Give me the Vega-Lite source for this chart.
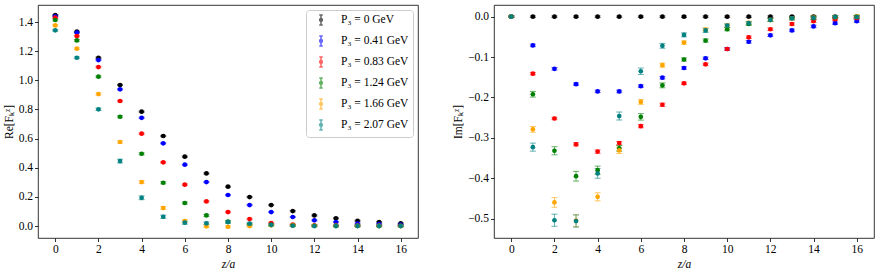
{
  "$schema": "https://vega.github.io/schema/vega-lite/v6.json",
  "padding": {"left": 2, "top": 4, "right": 5, "bottom": 2},
  "spacing": 33,
  "config": {
    "font": "Liberation Serif",
    "view": {"stroke": "#000", "strokeWidth": 0.8},
    "axis": {"domain": false, "grid": false, "tickColor": "#000", "tickSize": 3.5, "tickWidth": 0.8, "labelFont": "Liberation Serif", "labelFontSize": 11.5, "labelColor": "#000", "labelPadding": 2, "titleFont": "Liberation Serif", "titleFontSize": 11.5, "titleFontWeight": "normal", "titleColor": "#000"},
    "legend": {"labelFont": "Liberation Serif"}
  },
  "resolve": {"legend": {"color": "independent"}},
  "datasets": {
    "re": [
      {"z":0,"s":"0","v":1.448,"e":0.004},{"z":1,"s":"0","v":1.334,"e":0.004},{"z":2,"s":"0","v":1.155,"e":0.004},{"z":3,"s":"0","v":0.968,"e":0.004},{"z":4,"s":"0","v":0.785,"e":0.004},{"z":5,"s":"0","v":0.618,"e":0.004},{"z":6,"s":"0","v":0.476,"e":0.004},{"z":7,"s":"0","v":0.361,"e":0.004},{"z":8,"s":"0","v":0.270,"e":0.004},{"z":9,"s":"0","v":0.199,"e":0.004},{"z":10,"s":"0","v":0.144,"e":0.004},{"z":11,"s":"0","v":0.103,"e":0.004},{"z":12,"s":"0","v":0.073,"e":0.004},{"z":13,"s":"0","v":0.053,"e":0.004},{"z":14,"s":"0","v":0.036,"e":0.004},{"z":15,"s":"0","v":0.027,"e":0.004},{"z":16,"s":"0","v":0.018,"e":0.004},
      {"z":0,"s":"0.41","v":1.440,"e":0.004},{"z":1,"s":"0.41","v":1.327,"e":0.004},{"z":2,"s":"0.41","v":1.139,"e":0.004},{"z":3,"s":"0.41","v":0.938,"e":0.004},{"z":4,"s":"0.41","v":0.743,"e":0.004},{"z":5,"s":"0.41","v":0.568,"e":0.004},{"z":6,"s":"0.41","v":0.421,"e":0.004},{"z":7,"s":"0.41","v":0.302,"e":0.004},{"z":8,"s":"0.41","v":0.213,"e":0.004},{"z":9,"s":"0.41","v":0.144,"e":0.004},{"z":10,"s":"0.41","v":0.096,"e":0.004},{"z":11,"s":"0.41","v":0.062,"e":0.004},{"z":12,"s":"0.41","v":0.039,"e":0.004},{"z":13,"s":"0.41","v":0.027,"e":0.004},{"z":14,"s":"0.41","v":0.016,"e":0.004},{"z":15,"s":"0.41","v":0.014,"e":0.004},{"z":16,"s":"0.41","v":0.010,"e":0.004},
      {"z":0,"s":"0.83","v":1.430,"e":0.005},{"z":1,"s":"0.83","v":1.304,"e":0.005},{"z":2,"s":"0.83","v":1.091,"e":0.005},{"z":3,"s":"0.83","v":0.858,"e":0.005},{"z":4,"s":"0.83","v":0.634,"e":0.005},{"z":5,"s":"0.83","v":0.437,"e":0.005},{"z":6,"s":"0.83","v":0.284,"e":0.005},{"z":7,"s":"0.83","v":0.169,"e":0.005},{"z":8,"s":"0.83","v":0.096,"e":0.005},{"z":9,"s":"0.83","v":0.048,"e":0.005},{"z":10,"s":"0.83","v":0.021,"e":0.005},{"z":11,"s":"0.83","v":0.010,"e":0.004},{"z":12,"s":"0.83","v":0.005,"e":0.004},{"z":13,"s":"0.83","v":0.003,"e":0.004},{"z":14,"s":"0.83","v":0.002,"e":0.004},{"z":15,"s":"0.83","v":0.001,"e":0.004},{"z":16,"s":"0.83","v":0.001,"e":0.004},
      {"z":0,"s":"1.24","v":1.414,"e":0.006},{"z":1,"s":"1.24","v":1.274,"e":0.006},{"z":2,"s":"1.24","v":1.025,"e":0.006},{"z":3,"s":"1.24","v":0.750,"e":0.007},{"z":4,"s":"1.24","v":0.496,"e":0.007},{"z":5,"s":"1.24","v":0.297,"e":0.007},{"z":6,"s":"1.24","v":0.158,"e":0.007},{"z":7,"s":"1.24","v":0.073,"e":0.007},{"z":8,"s":"1.24","v":0.030,"e":0.007},{"z":9,"s":"1.24","v":0.011,"e":0.006},{"z":10,"s":"1.24","v":0.008,"e":0.005},{"z":11,"s":"1.24","v":0.004,"e":0.005},{"z":12,"s":"1.24","v":0.002,"e":0.005},{"z":13,"s":"1.24","v":0.001,"e":0.005},{"z":14,"s":"1.24","v":0.001,"e":0.005},{"z":15,"s":"1.24","v":0.001,"e":0.005},{"z":16,"s":"1.24","v":0.001,"e":0.005},
      {"z":0,"s":"1.66","v":1.377,"e":0.006},{"z":1,"s":"1.66","v":1.217,"e":0.006},{"z":2,"s":"1.66","v":0.906,"e":0.007},{"z":3,"s":"1.66","v":0.577,"e":0.008},{"z":4,"s":"1.66","v":0.302,"e":0.009},{"z":5,"s":"1.66","v":0.124,"e":0.009},{"z":6,"s":"1.66","v":0.034,"e":0.009},{"z":7,"s":"1.66","v":-0.002,"e":0.008},{"z":8,"s":"1.66","v":-0.005,"e":0.007},{"z":9,"s":"1.66","v":0.000,"e":0.006},{"z":10,"s":"1.66","v":0.005,"e":0.006},{"z":11,"s":"1.66","v":0.003,"e":0.005},{"z":12,"s":"1.66","v":0.002,"e":0.005},{"z":13,"s":"1.66","v":0.001,"e":0.005},{"z":14,"s":"1.66","v":0.001,"e":0.005},{"z":15,"s":"1.66","v":0.001,"e":0.005},{"z":16,"s":"1.66","v":0.000,"e":0.005},
      {"z":0,"s":"2.07","v":1.343,"e":0.006},{"z":1,"s":"2.07","v":1.155,"e":0.006},{"z":2,"s":"2.07","v":0.801,"e":0.008},{"z":3,"s":"2.07","v":0.446,"e":0.013},{"z":4,"s":"2.07","v":0.194,"e":0.013},{"z":5,"s":"2.07","v":0.064,"e":0.011},{"z":6,"s":"2.07","v":0.023,"e":0.010},{"z":7,"s":"2.07","v":0.019,"e":0.009},{"z":8,"s":"2.07","v":0.027,"e":0.008},{"z":9,"s":"2.07","v":0.016,"e":0.007},{"z":10,"s":"2.07","v":0.008,"e":0.006},{"z":11,"s":"2.07","v":0.002,"e":0.005},{"z":12,"s":"2.07","v":0.000,"e":0.005},{"z":13,"s":"2.07","v":0.000,"e":0.005},{"z":14,"s":"2.07","v":0.000,"e":0.005},{"z":15,"s":"2.07","v":0.000,"e":0.005},{"z":16,"s":"2.07","v":0.000,"e":0.005}
    ],
    "im": [
      {"z":0,"s":"0","v":0,"e":0.002},{"z":1,"s":"0","v":0,"e":0.002},{"z":2,"s":"0","v":0,"e":0.002},{"z":3,"s":"0","v":0,"e":0.002},{"z":4,"s":"0","v":0,"e":0.002},{"z":5,"s":"0","v":0,"e":0.002},{"z":6,"s":"0","v":0,"e":0.002},{"z":7,"s":"0","v":0,"e":0.002},{"z":8,"s":"0","v":0,"e":0.002},{"z":9,"s":"0","v":0,"e":0.002},{"z":10,"s":"0","v":0,"e":0.002},{"z":11,"s":"0","v":0,"e":0.002},{"z":12,"s":"0","v":0,"e":0.002},{"z":13,"s":"0","v":0,"e":0.002},{"z":14,"s":"0","v":0,"e":0.002},{"z":15,"s":"0","v":0,"e":0.002},{"z":16,"s":"0","v":0,"e":0.002},
      {"z":0,"s":"0.41","v":0,"e":0.002},{"z":1,"s":"0.41","v":-0.071,"e":0.003},{"z":2,"s":"0.41","v":-0.129,"e":0.003},{"z":3,"s":"0.41","v":-0.167,"e":0.003},{"z":4,"s":"0.41","v":-0.185,"e":0.003},{"z":5,"s":"0.41","v":-0.185,"e":0.003},{"z":6,"s":"0.41","v":-0.172,"e":0.003},{"z":7,"s":"0.41","v":-0.151,"e":0.003},{"z":8,"s":"0.41","v":-0.127,"e":0.003},{"z":9,"s":"0.41","v":-0.103,"e":0.003},{"z":10,"s":"0.41","v":-0.080,"e":0.003},{"z":11,"s":"0.41","v":-0.062,"e":0.003},{"z":12,"s":"0.41","v":-0.046,"e":0.003},{"z":13,"s":"0.41","v":-0.034,"e":0.003},{"z":14,"s":"0.41","v":-0.024,"e":0.003},{"z":15,"s":"0.41","v":-0.016,"e":0.003},{"z":16,"s":"0.41","v":-0.011,"e":0.003},
      {"z":0,"s":"0.83","v":0,"e":0.002},{"z":1,"s":"0.83","v":-0.141,"e":0.003},{"z":2,"s":"0.83","v":-0.252,"e":0.003},{"z":3,"s":"0.83","v":-0.316,"e":0.004},{"z":4,"s":"0.83","v":-0.334,"e":0.004},{"z":5,"s":"0.83","v":-0.313,"e":0.004},{"z":6,"s":"0.83","v":-0.271,"e":0.004},{"z":7,"s":"0.83","v":-0.218,"e":0.004},{"z":8,"s":"0.83","v":-0.165,"e":0.003},{"z":9,"s":"0.83","v":-0.118,"e":0.003},{"z":10,"s":"0.83","v":-0.080,"e":0.003},{"z":11,"s":"0.83","v":-0.051,"e":0.003},{"z":12,"s":"0.83","v":-0.031,"e":0.003},{"z":13,"s":"0.83","v":-0.018,"e":0.003},{"z":14,"s":"0.83","v":-0.011,"e":0.003},{"z":15,"s":"0.83","v":-0.006,"e":0.003},{"z":16,"s":"0.83","v":-0.003,"e":0.003},
      {"z":0,"s":"1.24","v":0,"e":0.002},{"z":1,"s":"1.24","v":-0.192,"e":0.007},{"z":2,"s":"1.24","v":-0.332,"e":0.010},{"z":3,"s":"1.24","v":-0.395,"e":0.012},{"z":4,"s":"1.24","v":-0.380,"e":0.010},{"z":5,"s":"1.24","v":-0.326,"e":0.007},{"z":6,"s":"1.24","v":-0.248,"e":0.008},{"z":7,"s":"1.24","v":-0.170,"e":0.006},{"z":8,"s":"1.24","v":-0.106,"e":0.004},{"z":9,"s":"1.24","v":-0.059,"e":0.004},{"z":10,"s":"1.24","v":-0.031,"e":0.004},{"z":11,"s":"1.24","v":-0.018,"e":0.003},{"z":12,"s":"1.24","v":-0.008,"e":0.003},{"z":13,"s":"1.24","v":-0.004,"e":0.003},{"z":14,"s":"1.24","v":-0.003,"e":0.003},{"z":15,"s":"1.24","v":-0.001,"e":0.003},{"z":16,"s":"1.24","v":0.000,"e":0.003},
      {"z":0,"s":"1.66","v":0,"e":0.002},{"z":1,"s":"1.66","v":-0.279,"e":0.007},{"z":2,"s":"1.66","v":-0.460,"e":0.012},{"z":3,"s":"1.66","v":-0.505,"e":0.015},{"z":4,"s":"1.66","v":-0.446,"e":0.010},{"z":5,"s":"1.66","v":-0.331,"e":0.008},{"z":6,"s":"1.66","v":-0.211,"e":0.006},{"z":7,"s":"1.66","v":-0.120,"e":0.005},{"z":8,"s":"1.66","v":-0.064,"e":0.004},{"z":9,"s":"1.66","v":-0.032,"e":0.004},{"z":10,"s":"1.66","v":-0.022,"e":0.004},{"z":11,"s":"1.66","v":-0.015,"e":0.004},{"z":12,"s":"1.66","v":-0.008,"e":0.004},{"z":13,"s":"1.66","v":-0.004,"e":0.004},{"z":14,"s":"1.66","v":-0.002,"e":0.004},{"z":15,"s":"1.66","v":-0.001,"e":0.004},{"z":16,"s":"1.66","v":0.000,"e":0.004},
      {"z":0,"s":"2.07","v":0,"e":0.002},{"z":1,"s":"2.07","v":-0.323,"e":0.010},{"z":2,"s":"2.07","v":-0.504,"e":0.015},{"z":3,"s":"2.07","v":-0.506,"e":0.015},{"z":4,"s":"2.07","v":-0.388,"e":0.012},{"z":5,"s":"2.07","v":-0.246,"e":0.010},{"z":6,"s":"2.07","v":-0.135,"e":0.008},{"z":7,"s":"2.07","v":-0.072,"e":0.006},{"z":8,"s":"2.07","v":-0.045,"e":0.005},{"z":9,"s":"2.07","v":-0.034,"e":0.005},{"z":10,"s":"2.07","v":-0.022,"e":0.004},{"z":11,"s":"2.07","v":-0.016,"e":0.004},{"z":12,"s":"2.07","v":-0.008,"e":0.004},{"z":13,"s":"2.07","v":-0.004,"e":0.004},{"z":14,"s":"2.07","v":-0.003,"e":0.004},{"z":15,"s":"2.07","v":-0.001,"e":0.004},{"z":16,"s":"2.07","v":-0.001,"e":0.004}
    ]
  },
  "hconcat": [
    {
      "width": 380, "height": 233,
      "data": {"name": "re"},
      "encoding": {
        "x": {"field": "z", "type": "quantitative", "scale": {"domain": [-0.8, 16.8], "nice": false, "zero": false}, "axis": {"values": [0,2,4,6,8,10,12,14,16], "title": "z/a", "labelFont": "Liberation Serif", "titleFont": "Liberation Serif", "titleFontStyle": "italic", "titlePadding": 3}},
        "y": {"field": "v", "type": "quantitative", "scale": {"domain": [-0.082, 1.517], "nice": false, "zero": false}, "axis": {"values": [0,0.2,0.4,0.6,0.8,1.0,1.2,1.4], "format": ".1f", "title": "Re[Fₖᶻ]", "labelFont": "Liberation Serif", "titleFont": "Liberation Serif", "titlePadding": 4}},
        "color": {"field": "s", "type": "nominal", "scale": {"domain": ["0","0.41","0.83","1.24","1.66","2.07"], "range": ["#000000","#0000ff","#ff0000","#008000","#ffa500","#008080"]}}
      },
      "layer": [
        {"mark": {"type": "errorbar", "ticks": true, "size": 6, "thickness": 1, "opacity": 0.6},
         "encoding": {"y": {"field": "v", "type": "quantitative", "scale": {"domain": [-0.082, 1.517], "nice": false, "zero": false}, "axis": {"values": [0,0.2,0.4,0.6,0.8,1.0,1.2,1.4], "format": ".1f", "title": "Re[Fₖᶻ]", "labelFont": "Liberation Serif", "titleFont": "Liberation Serif", "titlePadding": 4}}, "yError": {"field": "e"}}},
        {"mark": {"type": "point", "filled": true, "shape": "circle", "size": 22, "opacity": 1},
         "encoding": {"color": {"field": "s", "type": "nominal", "scale": {"domain": ["0","0.41","0.83","1.24","1.66","2.07"], "range": ["#000000","#0000ff","#ff0000","#008000","#ffa500","#008080"]},
           "legend": {"orient": "top-right", "offset": 5, "title": null, "fillColor": "white", "strokeColor": "#cccccc", "cornerRadius": 3, "padding": 4, "symbolOffset": 5, "labelFont": "Liberation Serif", "labelFontSize": 11.5, "labelColor": "#000", "labelOffset": 14, "rowPadding": 5, "symbolType": "M-0.35,-1H0.35M0,-1V1M-0.35,1H0.35M0.28,0A0.28,0.28 0 1 1 -0.28,0A0.28,0.28 0 1 1 0.28,0Z", "symbolSize": 100, "labelExpr": "'P₃ = ' + datum.label + ' GeV'",
             "encode": {"symbols": {"update": {"stroke": {"scale": "color", "field": "value"}, "strokeWidth": {"value": 1}, "opacity": {"value": 1}, "fillOpacity": {"value": 1}, "strokeOpacity": {"value": 1}}}}}}}}
      ]
    },
    {
      "width": 380, "height": 233,
      "data": {"name": "im"},
      "encoding": {
        "x": {"field": "z", "type": "quantitative", "scale": {"domain": [-0.8, 16.8], "nice": false, "zero": false}, "axis": {"values": [0,2,4,6,8,10,12,14,16], "title": "z/a", "labelFont": "Liberation Serif", "titleFont": "Liberation Serif", "titleFontStyle": "italic", "titlePadding": 3}},
        "y": {"field": "v", "type": "quantitative", "scale": {"domain": [-0.548, 0.029], "nice": false, "zero": false}, "axis": {"values": [-0.5,-0.4,-0.3,-0.2,-0.1,0.0], "format": ".1f", "title": "Im[Fₖᶻ]", "labelFont": "Liberation Serif", "titleFont": "Liberation Serif", "titlePadding": 4}},
        "color": {"field": "s", "type": "nominal", "scale": {"domain": ["0","0.41","0.83","1.24","1.66","2.07"], "range": ["#000000","#0000ff","#ff0000","#008000","#ffa500","#008080"]}, "legend": null}
      },
      "layer": [
        {"mark": {"type": "errorbar", "ticks": true, "size": 6, "thickness": 1, "opacity": 0.6},
         "encoding": {"y": {"field": "v", "type": "quantitative", "scale": {"domain": [-0.548, 0.029], "nice": false, "zero": false}, "axis": {"values": [-0.5,-0.4,-0.3,-0.2,-0.1,0.0], "format": ".1f", "title": "Im[Fₖᶻ]", "labelFont": "Liberation Serif", "titleFont": "Liberation Serif", "titlePadding": 4}}, "yError": {"field": "e"}}},
        {"mark": {"type": "point", "filled": true, "shape": "circle", "size": 22, "opacity": 1}}
      ]
    }
  ]
}
